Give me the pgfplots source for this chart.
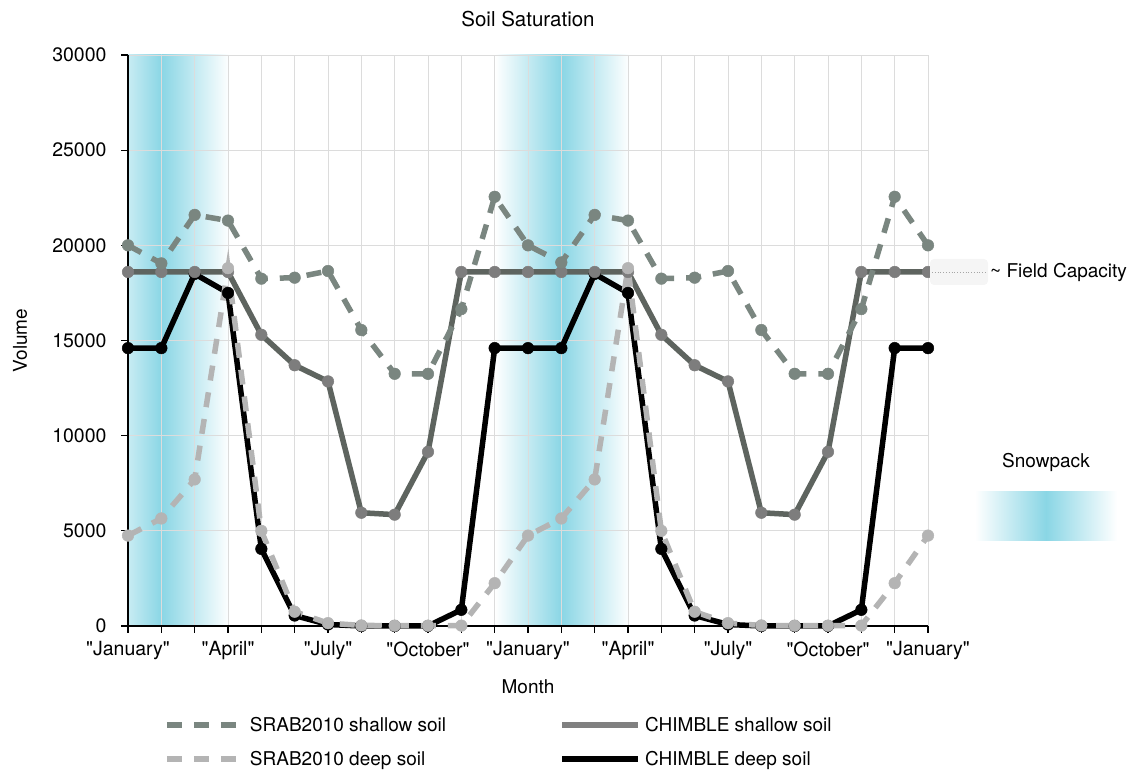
\documentclass[border=0pt]{standalone}
\usepackage{fontspec}
\setmainfont{TeX Gyre Heros}
\usepackage{pgfplots}
\usepackage{pgfplotstable}
\pgfplotsset{compat=1.18}
\definecolor{srabS}{RGB}{122,134,128}
\definecolor{srabD}{RGB}{180,180,180}
\definecolor{chimS}{RGB}{94,100,95}
\definecolor{chimSm}{RGB}{125,125,125}
\definecolor{chimSleg}{RGB}{128,128,128}
\definecolor{snow}{RGB}{138,214,229}
\definecolor{snowmid}{RGB}{200,236,243}
\definecolor{gridc}{RGB}{220,220,220}
\newcommand{\cf}{\fontsize{19bp}{22bp}\selectfont}
\newcommand{\tf}{\fontsize{19.5bp}{22bp}\selectfont}
\newcommand{\q}[1]{\textquotedbl#1\textquotedbl}

\pgfplotstableread{
x y
0 18600
1 18600
2 18600
3 18600
4 15300
5 13700
6 12850
7 5950
8 5850
9 9150
10 18600
11 18600
12 18600
13 18600
14 18600
15 18600
16 15300
17 13700
18 12850
19 5950
20 5850
21 9150
22 18600
23 18600
24 18600
}\chimshallow

\pgfplotstableread{
x y
0 14600
1 14600
2 18500
3 17500
4 4050
5 550
6 80
7 0
8 0
9 0
10 850
11 14600
12 14600
13 14600
14 18500
15 17500
16 4050
17 550
18 80
19 0
20 0
21 0
22 850
23 14600
24 14600
}\chimdeep

\pgfplotstableread{
x y
0 20000
1 19050
2 21600
3 21300
4 18250
5 18300
6 18650
7 15550
8 13250
9 13250
10 16650
11 22550
12 20000
13 19100
14 21600
15 21300
16 18250
17 18300
18 18650
19 15550
20 13250
21 13250
22 16650
23 22550
24 20000
}\srabshallow

\pgfplotstableread{
x y
0 4750
1 5650
2 7700
3 18800
4 5000
5 750
6 150
7 30
8 20
9 20
10 20
11 2250
12 4750
13 5650
14 7700
15 18800
16 5000
17 750
18 150
19 30
20 20
21 20
22 20
23 2250
24 4750
}\srabdeep

\begin{document}
\begin{tikzpicture}
\path (0,0) rectangle (1129bp,767bp);
\begin{axis}[
  set layers,
  at={(128bp,141bp)}, anchor=south west,
  scale only axis, width=800bp, height=571bp,
  xmin=0, xmax=24, ymin=0, ymax=30000,
  clip=false,
  axis x line=bottom, axis y line=left,
  axis line style={-, line width=1.3bp, black},
  xtick={0,...,24},
  xticklabels={\q{January},,,\q{April},,,\q{July},,,\q{October},,,\q{January},,,\q{April},,,\q{July},,,\q{October},,,\q{January}},
  ytick={0,5000,...,30000},
  scaled y ticks=false,
  /pgf/number format/assume math mode=true,
  yticklabel style={/pgf/number format/fixed, /pgf/number format/1000 sep={}, xshift=-11bp},
  xticklabel style={yshift=-5bp},
  tick style={black, line width=1.3bp},
  major tick length=7bp,
  tick align=outside,
  grid=major,
  major grid style={draw=gridc, line width=0.9bp},
  tick label style={font=\tf},
  label style={font=\cf},
  title style={font=\fontsize{20.5bp}{24bp}\selectfont},
  title={Soil Saturation},
  title style={at={(axis description cs:0.5,1.039)}, anchor=base},
  xlabel={Month},
  xlabel style={at={(axis description cs:0.5,-0.119)}, anchor=base},
  ylabel={Volume},
  ylabel style={at={(axis description cs:-0.135,0.5)}, anchor=center},
  legend columns=2,
  legend cell align=left,
  legend style={at={(axis description cs:0.041,-0.153)}, anchor=north west,
    draw=none, fill=none, font=\cf, row sep=14bp,
    /tikz/every even column/.append style={column sep=111bp}},
]
\begin{pgfonlayer}{axis background}
\shade[left color=snowmid, right color=snow] (axis cs:0,0) rectangle (axis cs:1,30000);
\shade[left color=snow, right color=white] (axis cs:1,0) rectangle (axis cs:3.05,30000);
\shade[left color=white, right color=snow] (axis cs:11,0) rectangle (axis cs:13,30000);
\shade[left color=snow, right color=white] (axis cs:13,0) rectangle (axis cs:15.05,30000);
\end{pgfonlayer}

\addplot[forget plot, black, line width=5.5bp, line join=round, mark=*, mark size=5.8bp,
  mark options={solid, fill=black, draw=black, line width=0.5bp}] table {\chimdeep};
\addplot[forget plot, chimS, line width=5.5bp, line join=round, mark=*, mark size=5.8bp,
  mark options={solid, fill=chimSm, draw=chimSm, line width=0.5bp}] table {\chimshallow};
\addplot[forget plot, srabD, line width=5.5bp, dash pattern=on 15bp off 12bp, mark=*, mark size=5.8bp,
  mark options={solid, fill=srabD, draw=srabD, line width=0.5bp}] table {\srabdeep};
\addplot[forget plot, srabS, line width=5.5bp, dash pattern=on 15bp off 12bp, mark=*, mark size=5.8bp,
  mark options={solid, fill=srabS, draw=srabS, line width=0.5bp}] table {\srabshallow};

\addlegendimage{legend image code/.code={\draw[srabS, line width=6bp, dash pattern=on 15bp off 12bp] (0bp,0bp) -- (69bp,0bp);}}
\addlegendentry{\hspace{9bp}SRAB2010 shallow soil}
\addlegendimage{legend image code/.code={\draw[chimSleg, line width=6bp] (0bp,0bp) -- (76bp,0bp);}}
\addlegendentry{\hspace{2bp}CHIMBLE shallow soil}
\addlegendimage{legend image code/.code={\draw[srabD, line width=6bp, dash pattern=on 15bp off 12bp] (0bp,0bp) -- (69bp,0bp);}}
\addlegendentry{\hspace{9bp}SRAB2010 deep soil}
\addlegendimage{legend image code/.code={\draw[black, line width=6bp] (0bp,0bp) -- (76bp,0bp);}}
\addlegendentry{\hspace{2bp}CHIMBLE deep soil}
\end{axis}

% Field capacity annotation
\fill[black!4, rounded corners=4bp] (930bp,482bp) rectangle (988bp,508bp);
\draw[black!35, dotted, line width=0.8bp] (932bp,495bp) -- (986bp,495bp);
\node[anchor=west, font=\cf, inner sep=0pt] at (990bp,495bp) {\textasciitilde\ Field Capacity};

% Snowpack swatch
\node[font=\cf] at (1046bp,305bp) {Snowpack};
\shade[left color=white, right color=snow] (975bp,226bp) rectangle (1046bp,275bp);
\shade[left color=snow, right color=white] (1046bp,226bp) rectangle (1117bp,275bp);
\end{tikzpicture}
\end{document}
